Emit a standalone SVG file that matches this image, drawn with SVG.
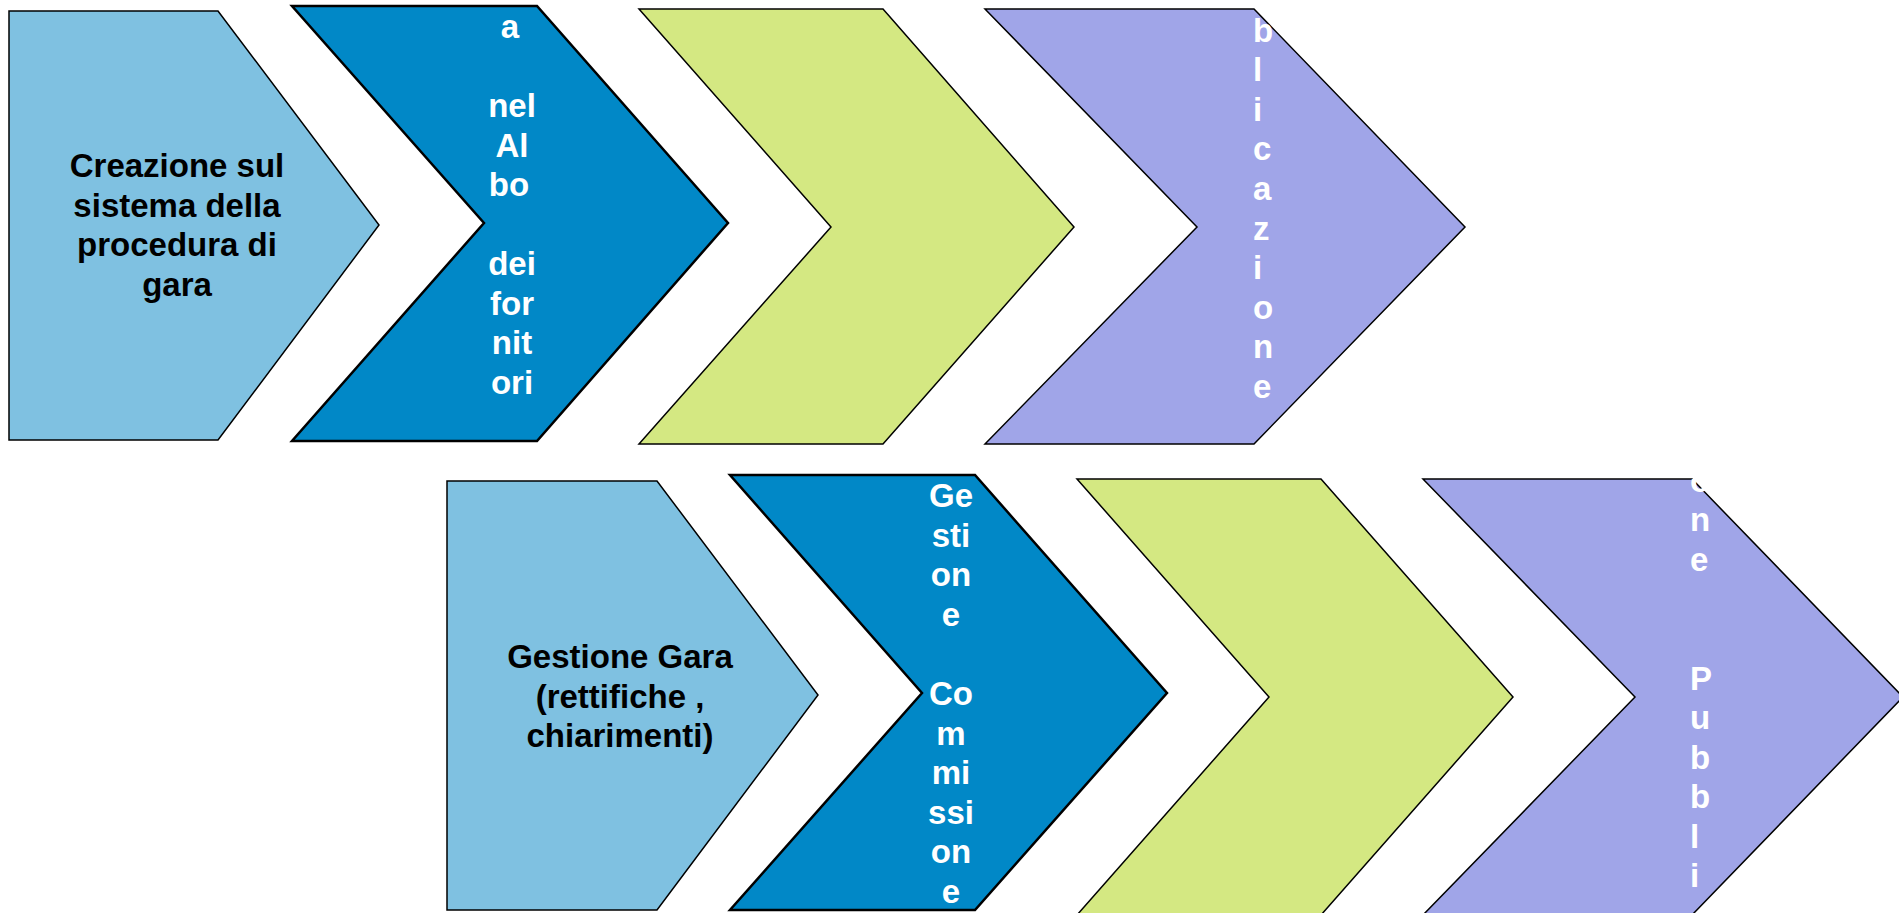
<svg xmlns="http://www.w3.org/2000/svg" width="1899" height="913" viewBox="0 0 1899 913">
<style>
.lb{fill:#7FC1E1;stroke:#000;stroke-width:1.5;stroke-linejoin:miter}
.db{fill:#0188C7;stroke:#000;stroke-width:2.5;stroke-linejoin:miter}
.gr{fill:#D4E882;stroke:#000;stroke-width:1.5;stroke-linejoin:miter}
.pu{fill:#A0A5E8;stroke:#000;stroke-width:1.5;stroke-linejoin:miter}
text{font-family:"Liberation Sans",Arial,sans-serif;font-weight:bold;font-size:33px}
.bk{fill:#000;text-anchor:middle}
.wc{fill:#fff;text-anchor:middle}
.wl{fill:#fff;text-anchor:start}
</style>
<defs>
<clipPath id="c2"><rect x="292" y="6" width="436" height="435"/></clipPath>
<clipPath id="c4"><rect x="985" y="9" width="480" height="435"/></clipPath>
<clipPath id="c6"><rect x="730" y="475" width="437" height="438"/></clipPath>
<clipPath id="c8"><rect x="1423" y="479" width="476" height="434"/></clipPath>
</defs>
<rect width="1899" height="913" fill="#fff"/>
<g id="connectors"></g>
<g id="step1">
<polygon class="lb" points="9,11 218,11 379,225 218,440 9,440"/>
<text class="bk" x="177" y="177">Creazione sul</text>
<text class="bk" x="177" y="216.5">sistema della</text>
<text class="bk" x="177" y="256">procedura di</text>
<text class="bk" x="177" y="295.5">gara</text>
</g>
<g id="step2">
<polygon class="db" points="292,6 537,6 728,223 537,441 292,441 484,223"/>
<g clip-path="url(#c2)">
<text class="wc" x="510" y="38">a</text>
<text class="wc" x="512" y="117">nel</text>
<text class="wc" x="512" y="156.5">Al</text>
<text class="wc" x="509" y="196">bo</text>
<text class="wc" x="512" y="275">dei</text>
<text class="wc" x="512" y="314.5">for</text>
<text class="wc" x="512" y="354">nit</text>
<text class="wc" x="512" y="393.5">ori</text>
</g>
</g>
<g id="step3">
<polygon class="gr" points="639,9 883,9 1074,227 883,444 639,444 831,227"/>
</g>
<g id="step4">
<polygon class="pu" points="985,9 1254,9 1465,227 1254,444 985,444 1197,227"/>
<g clip-path="url(#c4)">
<text class="wl" x="1253" y="41.5">b</text>
<text class="wl" x="1253" y="81.1">l</text>
<text class="wl" x="1253" y="120.7">i</text>
<text class="wl" x="1253" y="160.3">c</text>
<text class="wl" x="1253" y="199.9">a</text>
<text class="wl" x="1253" y="239.5">z</text>
<text class="wl" x="1253" y="279.1">i</text>
<text class="wl" x="1253" y="318.7">o</text>
<text class="wl" x="1253" y="358.3">n</text>
<text class="wl" x="1253" y="397.9">e</text>
</g>
</g>
<g id="step5">
<polygon class="lb" points="447,481 657,481 818,695 657,910 447,910"/>
<text class="bk" x="620" y="668">Gestione Gara</text>
<text class="bk" x="620" y="707.5">(rettifiche ,</text>
<text class="bk" x="620" y="747">chiarimenti)</text>
</g>
<g id="step6">
<polygon class="db" points="730,475 975,475 1167,693 975,910 730,910 922,693"/>
<g clip-path="url(#c6)">
<text class="wc" x="951" y="507">Ge</text>
<text class="wc" x="951" y="546.6">sti</text>
<text class="wc" x="951" y="586.2">on</text>
<text class="wc" x="951" y="625.8">e</text>
<text class="wc" x="951" y="705">Co</text>
<text class="wc" x="951" y="744.6">m</text>
<text class="wc" x="951" y="784.2">mi</text>
<text class="wc" x="951" y="823.8">ssi</text>
<text class="wc" x="951" y="863.4">on</text>
<text class="wc" x="951" y="903">e</text>
</g>
</g>
<g id="step7">
<polygon class="gr" points="1077,479 1321,479 1513,697 1321,915 1077,915 1269,697"/>
</g>
<g id="step8">
<polygon class="pu" points="1423,479 1692,479 1903,697 1692,915 1423,915 1635,697"/>
<g clip-path="url(#c8)">
<text class="wl" x="1690" y="491.5">o</text>
<text class="wl" x="1690" y="531">n</text>
<text class="wl" x="1690" y="570.5">e</text>
<text class="wl" x="1690" y="689.5">P</text>
<text class="wl" x="1690" y="729">u</text>
<text class="wl" x="1690" y="768.5">b</text>
<text class="wl" x="1690" y="808">b</text>
<text class="wl" x="1690" y="847.5">l</text>
<text class="wl" x="1690" y="887">i</text>
</g>
</g>
</svg>
